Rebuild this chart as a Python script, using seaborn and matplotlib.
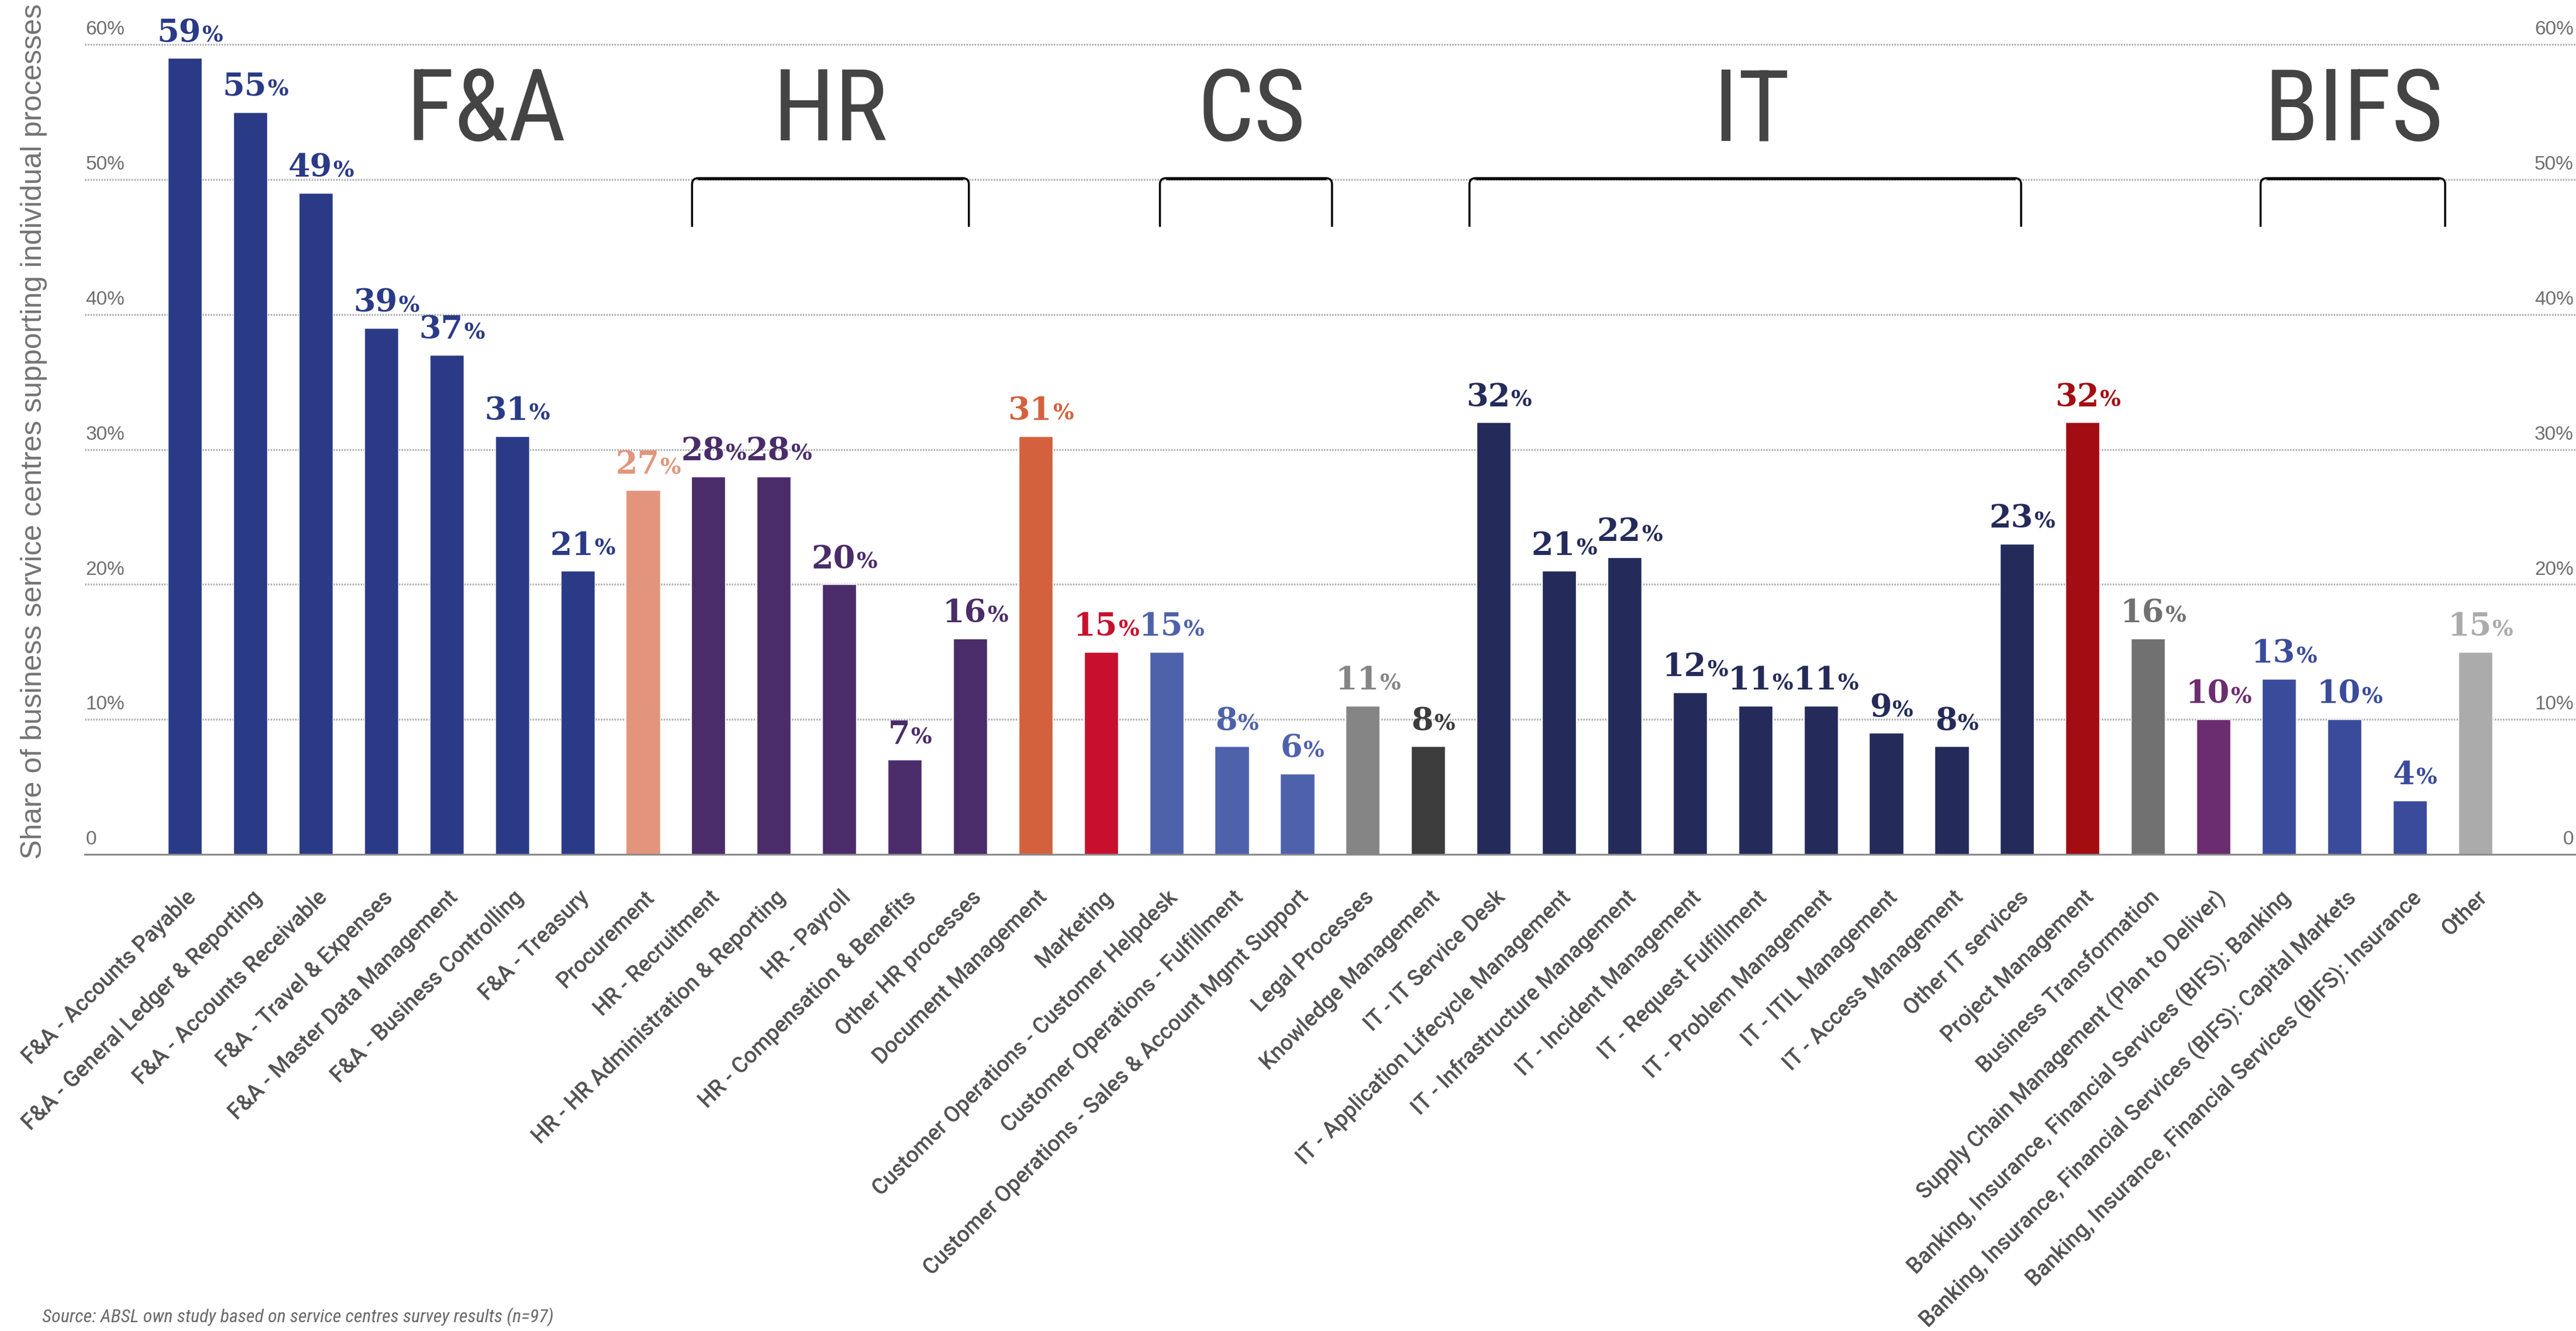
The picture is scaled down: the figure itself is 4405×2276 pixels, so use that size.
import matplotlib
matplotlib.use("Agg")
import matplotlib.pyplot as plt
import matplotlib.transforms as mtransforms
from matplotlib.path import Path
from matplotlib.patches import PathPatch
from matplotlib import font_manager as fm
import pandas as pd
import seaborn as sns

# ---------------------------------------------------------------- data
categories = [
    "F&A - Accounts Payable",
    "F&A - General Ledger & Reporting",
    "F&A - Accounts Receivable",
    "F&A - Travel & Expenses",
    "F&A - Master Data Management",
    "F&A - Business Controlling",
    "F&A - Treasury",
    "Procurement",
    "HR - Recruitment",
    "HR - HR Administration & Reporting",
    "HR - Payroll",
    "HR - Compensation & Benefits",
    "Other HR processes",
    "Document Management",
    "Marketing",
    "Customer Operations - Customer Helpdesk",
    "Customer Operations - Fulfillment",
    "Customer Operations - Sales & Account Mgmt Support",
    "Legal Processes",
    "Knowledge Management",
    "IT - IT Service Desk",
    "IT - Application Lifecycle Management",
    "IT - Infrastructure Management",
    "IT - Incident Management",
    "IT - Request Fulfillment",
    "IT - Problem Management",
    "IT - ITIL Management",
    "IT - Access Management",
    "Other IT services",
    "Project Management",
    "Business Transformation",
    "Supply Chain Management (Plan to Deliver)",
    "Banking, Insurance, Financial Services (BIFS): Banking",
    "Banking, Insurance, Financial Services (BIFS): Capital Markets",
    "Banking, Insurance, Financial Services (BIFS): Insurance",
    "Other",
]

values = [59, 55, 49, 39, 37, 31, 21,
          27,
          28, 28, 20, 7, 16,
          31,
          15,
          15, 8, 6,
          11,
          8,
          32, 21, 22, 12, 11, 11, 9, 8, 23,
          32,
          16,
          10,
          13, 10, 4,
          15]

areas = (["F&A"] * 7 + ["Procurement"] + ["HR"] * 5 + ["Document"] + ["Marketing"]
         + ["CS"] * 3 + ["Legal"] + ["Knowledge"] + ["IT"] * 9 + ["Project"]
         + ["Transformation"] + ["SCM"] + ["BIFS"] * 3 + ["Other"])

group_names = ["F&A", "HR", "CS", "IT", "BIFS"]

y_ticks = [0, 10, 20, 30, 40, 50, 60]
y_tick_labels = ["0", "10%", "20%", "30%", "40%", "50%", "60%"]

y_title = "Share of business service centres supporting individual processes"
source_note = "Source: ABSL own study based on service centres survey results (n=97)"

# ---------------------------------------------------------------- styles
area_colors = {
    "F&A": "#2a3a86",
    "Procurement": "#e2957c",
    "HR": "#4a2c6a",
    "Document": "#d4613d",
    "Marketing": "#c8102e",
    "CS": "#4e62ab",
    "Legal": "#858585",
    "Knowledge": "#3c3c3c",
    "IT": "#242b5a",
    "Project": "#a30d12",
    "Transformation": "#717171",
    "SCM": "#6c2d70",
    "BIFS": "#3b4b9c",
    "Other": "#ababab",
}

# group heading centre (bar index units) and bracket extents
group_centres = {"F&A": 4.61, "HR": 9.87, "CS": 16.3, "IT": 23.94, "BIFS": 33.15}
group_brackets = {"HR": (7.75, 11.98), "CS": (14.9, 17.53),
                  "IT": (19.63, 28.06), "BIFS": (31.72, 34.54)}

sns.set_theme(style="white")
available = {f.name for f in fm.fontManager.ttflist}
narrow = next((n for n in ["Liberation Sans Narrow", "Roboto Condensed", "Roboto"]
               if n in available), "DejaVu Sans")
plt.rcParams["font.family"] = ["Liberation Sans", "DejaVu Sans"]

W, H, DPI = 4405, 2276, 100
fig = plt.figure(figsize=(W / DPI, H / DPI), dpi=DPI)
left_px, base_px, px_per_pct = 145, 1461, 23.08
ax = fig.add_axes([left_px / W, 1 - base_px / H, 1 - left_px / W, base_px / H])

df = pd.DataFrame({"process": categories, "share": values, "area": areas})
palette = [area_colors[a] for a in areas]
sns.barplot(data=df, x="process", y="share", hue="process", order=categories,
            hue_order=categories, palette=palette, width=0.52, saturation=1,
            legend=False, ax=ax, zorder=2)

ax.set_xlim(-1.53, 36.54)
ax.set_ylim(0, base_px / px_per_pct)
ax.set_xlabel("")
ax.set_ylabel("")
ax.set_yticks([])

for side in ["left", "right", "top"]:
    ax.spines[side].set_visible(False)
ax.spines["bottom"].set_color("#8a8a8a")
ax.spines["bottom"].set_linewidth(2.2)
ax.spines["bottom"].set_zorder(3)

# dotted gridlines
for t in y_ticks[1:]:
    ax.axhline(t, color="#ababab", lw=2.4, ls=(0, (0.7, 0.7)), zorder=0.5)

# tick labels sitting on top of each gridline, both sides
blend = mtransforms.blended_transform_factory(ax.transAxes, ax.transData)
for t, lab in zip(y_ticks, y_tick_labels):
    ax.annotate(lab, (0, t), xycoords=blend, xytext=(1, 7), textcoords="offset points",
                ha="left", va="bottom", fontsize=24, color="#6e6e6e")
    ax.annotate(lab, (1, t), xycoords=blend, xytext=(-3, 7), textcoords="offset points",
                ha="right", va="bottom", fontsize=24, color="#6e6e6e")

# category labels
ax.set_xticks(range(len(categories)))
ax.set_xticklabels(categories, rotation=45, ha="right", va="center",
                   rotation_mode="anchor", fontsize=27, color="#505050",
                   fontfamily=["Roboto", "DejaVu Sans"], fontweight="medium")
ax.tick_params(axis="x", length=0, pad=49)
shift = mtransforms.ScaledTranslation(14 / DPI, 0, fig.dpi_scale_trans)
for lab in ax.get_xticklabels():
    lab.set_transform(lab.get_transform() + shift)

# group headings and brackets
for name in group_names:
    ax.text(group_centres[name], 52.9, name, ha="center", va="baseline",
            fontsize=123, fontfamily=[narrow, "DejaVu Sans"], color="#444444", zorder=4)

for name, (x0, x1) in group_brackets.items():
    y_top, y_bot, rx, ry = 50.1, 46.5, 0.09, 0.45
    verts = [(x0, y_bot), (x0, y_top - ry), (x0, y_top), (x0 + rx, y_top),
             (x1 - rx, y_top), (x1, y_top), (x1, y_top - ry), (x1, y_bot)]
    codes = [Path.MOVETO, Path.LINETO, Path.CURVE3, Path.CURVE3,
             Path.LINETO, Path.CURVE3, Path.CURVE3, Path.LINETO]
    ax.add_patch(PathPatch(Path(verts, codes), fill=False, lw=2.5,
                           edgecolor="black", zorder=5, capstyle="butt"))
    ax.plot([x0 + rx, x1 - rx], [y_top, y_top], color="black", lw=3.8,
            solid_capstyle="butt", zorder=5)

# y-axis title
fig.text(58 / W, 1 - 738 / H, y_title, rotation=90, ha="center", va="center",
         fontsize=36, color="#737373")

# source note at the foot
fig.text(72 / W, 1 - 2236 / H, source_note, ha="left", va="top", fontsize=23,
         style="italic", color="#6a6a6a", fontfamily=[narrow, "DejaVu Sans"])

# value labels: bold number followed by a smaller percent sign
fig.canvas.draw()
renderer = fig.canvas.get_renderer()
k = 72 / DPI
lift = 20
for i, (v, a) in enumerate(zip(values, areas)):
    c = area_colors[a]
    tn = ax.annotate(f"{v}", (i, v), xytext=(0, lift), textcoords="offset points",
                     ha="left", va="baseline", color=c, fontsize=39,
                     fontfamily="DejaVu Serif", fontweight="bold", zorder=6)
    tp = ax.annotate("%", (i, v), xytext=(0, lift), textcoords="offset points",
                     ha="left", va="baseline", color=c, fontsize=27,
                     fontfamily="DejaVu Serif", fontweight="bold", zorder=6)
    wn = tn.get_window_extent(renderer).width
    wp = tp.get_window_extent(renderer).width
    start = -(wn + wp) / 2 + 8
    tn.xyann = (start * k, lift)
    tp.xyann = ((start + wn + 1) * k, lift)

fig.savefig("out.png", dpi=DPI, facecolor="white")
